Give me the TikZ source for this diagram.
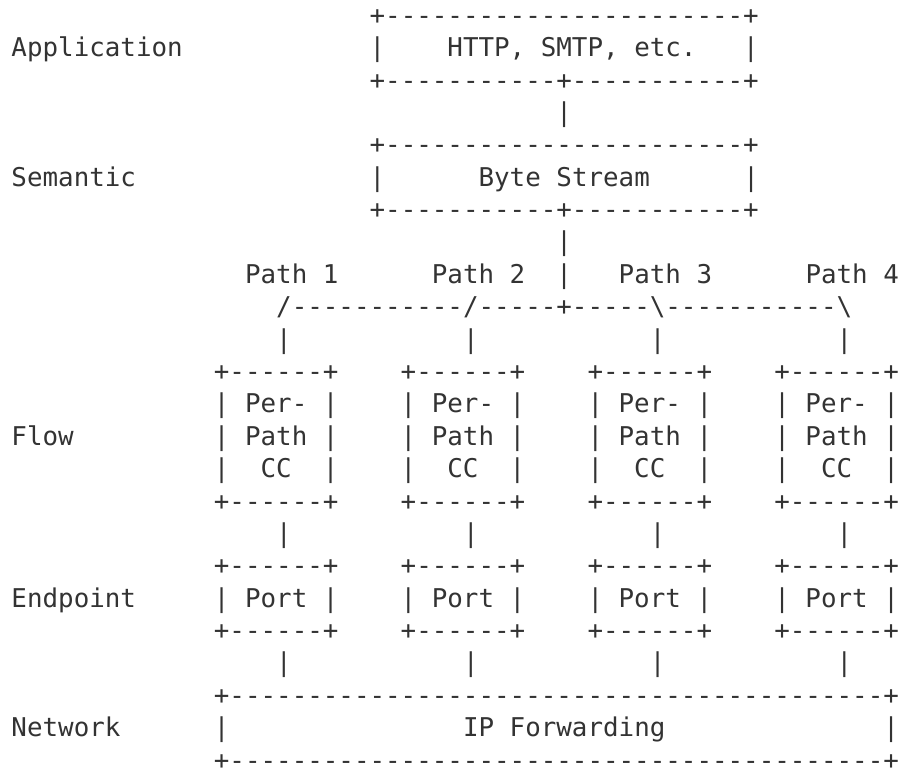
\documentclass[tikz,border=0pt]{standalone}
\usepackage{fontspec}
\setmonofont{DejaVu Sans Mono}
\ExplSyntaxOn
\NewDocumentCommand\mrep{mm}{\prg_replicate:nn{#1}{#2}}
\ExplSyntaxOff
% one ASCII box edge and a row of four such cells
\newcommand\celledge{+\mrep{6}{-}+}
\newcommand\fourcells[1]{#1\mrep{4}{~}#1\mrep{4}{~}#1\mrep{4}{~}#1}
\definecolor{ink}{RGB}{51,51,51}
\tikzset{
  asciirow/.style={anchor=base west, inner sep=0pt, outer sep=0pt, text=ink,
    font=\ttfamily\fontsize{25.86pt}{32.38pt}\selectfont\frenchspacing},
}
\begin{document}
\begin{tikzpicture}[x=15.57pt, y=-32.38pt]
  \useasboundingbox[fill=white] (0pt,0pt) rectangle (899pt,-769pt);
  % text grid: one unit = one character cell, one line
  \begin{scope}[shift={(11.5pt,-24.3pt)}]
    % layer names
    \node[asciirow] (lapp)  at (0,1)  {Application};
    \node[asciirow] (lsem)  at (0,5)  {Semantic};
    \node[asciirow] (lflow) at (0,13) {Flow};
    \node[asciirow] (lend)  at (0,18) {Endpoint};
    \node[asciirow] (lnet)  at (0,22) {Network};
    % application box
    \node[asciirow] (r1) at (23,0) {+\mrep{23}{-}+};
    \node[asciirow] (r2) at (23,1) {|\mrep{4}{~}HTTP,~SMTP,~etc.\mrep{3}{~}|};
    \node[asciirow] (r3) at (23,2) {+\mrep{11}{-}+\mrep{11}{-}+};
    \node[asciirow] (r4) at (35,3) {|};
    % byte stream box
    \node[asciirow] (r5) at (23,4) {+\mrep{23}{-}+};
    \node[asciirow] (r6) at (23,5) {|\mrep{6}{~}Byte~Stream\mrep{6}{~}|};
    \node[asciirow] (r7) at (23,6) {+\mrep{11}{-}+\mrep{11}{-}+};
    \node[asciirow] (r8) at (35,7) {|};
    % path fan-out
    \node[asciirow] (r9)  at (15,8)  {Path~1\mrep{6}{~}Path~2~~|~~~Path~3\mrep{6}{~}Path~4};
    \node[asciirow] (r10) at (17,9)  {/\mrep{11}{-}/\mrep{5}{-}+\mrep{5}{-}\textbackslash\mrep{11}{-}\textbackslash};
    \node[asciirow] (r11) at (17,10) {|\mrep{11}{~}|\mrep{11}{~}|\mrep{11}{~}|};
    % per-path congestion control boxes
    \node[asciirow] (r12) at (13,11) {\fourcells{\celledge}};
    \node[asciirow] (r13) at (13,12) {\fourcells{|~Per-~|}};
    \node[asciirow] (r14) at (13,13) {\fourcells{|~Path~|}};
    \node[asciirow] (r15) at (13,14) {\fourcells{|~~CC~~|}};
    \node[asciirow] (r16) at (13,15) {\fourcells{\celledge}};
    \node[asciirow] (r17) at (17,16) {|\mrep{11}{~}|\mrep{11}{~}|\mrep{11}{~}|};
    % port boxes
    \node[asciirow] (r18) at (13,17) {\fourcells{\celledge}};
    \node[asciirow] (r19) at (13,18) {\fourcells{|~Port~|}};
    \node[asciirow] (r20) at (13,19) {\fourcells{\celledge}};
    \node[asciirow] (r21) at (17,20) {|\mrep{11}{~}|\mrep{11}{~}|\mrep{11}{~}|};
    % IP forwarding box
    \node[asciirow] (r22) at (13,21) {+\mrep{42}{-}+};
    \node[asciirow] (r23) at (13,22) {|\mrep{15}{~}IP~Forwarding\mrep{14}{~}|};
    \node[asciirow] (r24) at (13,23) {+\mrep{42}{-}+};
  \end{scope}
\end{tikzpicture}
\end{document}
